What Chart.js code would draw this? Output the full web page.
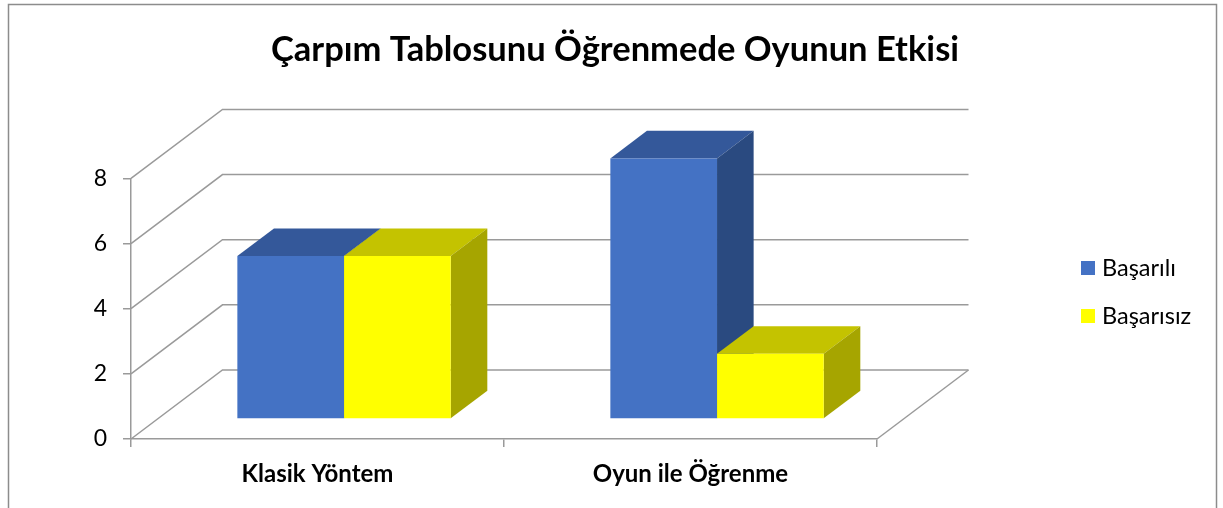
<!DOCTYPE html>
<html>
<head>
<meta charset="utf-8">
<script src="https://cdn.jsdelivr.net/npm/chart.js@4/dist/chart.umd.min.js"></script>
<style>
  html, body { margin: 0; padding: 0; background: #fff; }
</style>
</head>
<body>
<canvas id="chart" width="1223" height="508"></canvas>
<script>
var categories = ['Klasik Yöntem', 'Oyun ile Öğrenme'];
var seriesLabels = ['Başarılı', 'Başarısız'];
var basarili = [5, 8];
var basarisiz = [5, 2];
var yTicks = [0, 2, 4, 6, 8];

var FONT = 'Lato, "Open Sans", sans-serif';
var GRID = '#9a9a9a';
// 3d look: full depth of the floor, and where the bars sit inside it
var DEPTH_X = 91.5, DEPTH_Y = -69;
var BAR_FRONT = 0.29, BAR_DEPTH = 0.4;

var faceColors = [
    { front: '#4472C4', top: '#34589A', side: '#2A4A80' },
    { front: '#FFFF00', top: '#C4C300', side: '#A6A500' }
];

var threeD = {
    id: 'threeD',
    beforeDraw: function (chart) {
        var ctx = chart.ctx;
        ctx.save();
        ctx.fillStyle = '#fff';
        ctx.fillRect(0, 0, chart.width, chart.height);
        ctx.strokeStyle = '#8c8c8c';
        ctx.lineWidth = 1.5;
        ctx.strokeRect(8.5, 4.5, 1208, 520);
        ctx.restore();
    },
    beforeDatasetsDraw: function (chart) {
        var ctx = chart.ctx, a = chart.chartArea, y = chart.scales.y;
        ctx.save();
        ctx.strokeStyle = GRID;
        ctx.lineWidth = 1.5;
        yTicks.forEach(function (v) {
            var py = y.getPixelForValue(v);
            ctx.beginPath();
            ctx.moveTo(a.left, py);
            ctx.lineTo(a.left + DEPTH_X, py + DEPTH_Y);
            ctx.lineTo(a.right + DEPTH_X, py + DEPTH_Y);
            ctx.stroke();
        });
        // right edge of the floor
        ctx.beginPath();
        ctx.moveTo(a.right, a.bottom);
        ctx.lineTo(a.right + DEPTH_X, a.bottom + DEPTH_Y);
        ctx.stroke();

        // bars stand part way back on the floor
        ctx.translate(DEPTH_X * BAR_FRONT, DEPTH_Y * BAR_FRONT);
        var dx = DEPTH_X * BAR_DEPTH, dy = DEPTH_Y * BAR_DEPTH;
        chart.data.datasets.forEach(function (ds, i) {
            chart.getDatasetMeta(i).data.forEach(function (bar) {
                var p = bar.getProps(['x', 'y', 'base', 'width'], true);
                var l = p.x - p.width / 2, r = p.x + p.width / 2;
                ctx.fillStyle = faceColors[i].top;
                ctx.beginPath();
                ctx.moveTo(l, p.y);
                ctx.lineTo(l + dx, p.y + dy);
                ctx.lineTo(r + dx, p.y + dy);
                ctx.lineTo(r, p.y);
                ctx.closePath();
                ctx.fill();
                ctx.fillStyle = faceColors[i].side;
                ctx.beginPath();
                ctx.moveTo(r, p.y);
                ctx.lineTo(r + dx, p.y + dy);
                ctx.lineTo(r + dx, p.base + dy);
                ctx.lineTo(r, p.base);
                ctx.closePath();
                ctx.fill();
            });
        });
    },
    afterDatasetsDraw: function (chart) {
        chart.ctx.restore();
    },
    afterDraw: function (chart) {
        var ctx = chart.ctx;
        ctx.save();
        ctx.font = '23.5px ' + FONT;
        ctx.textBaseline = 'middle';
        ctx.textAlign = 'left';
        chart.data.datasets.forEach(function (ds, i) {
            var cy = 268 + i * 48;
            ctx.fillStyle = ds.backgroundColor;
            ctx.fillRect(1081, cy - 7, 14, 14);
            ctx.fillStyle = '#000';
            ctx.fillText(ds.label, 1102, cy);
        });
        ctx.restore();
    }
};

new Chart(document.getElementById('chart'), {
    type: 'bar',
    data: {
        labels: categories,
        datasets: [{
            label: seriesLabels[0],
            data: basarili,
            backgroundColor: faceColors[0].front,
            borderWidth: 0,
            clip: false
        }, {
            label: seriesLabels[1],
            data: basarisiz,
            backgroundColor: faceColors[1].front,
            borderWidth: 0,
            clip: false
        }]
    },
    options: {
        responsive: false,
        animation: false,
        events: [],
        barPercentage: 1,
        categoryPercentage: 0.572,
        layout: { padding: { left: 7, right: 0, top: 0, bottom: 0 } },
        scales: {
            x: {
                grid: { drawOnChartArea: false, tickLength: 8, color: GRID, lineWidth: 1.5 },
                border: { color: GRID, width: 1.5 },
                ticks: { font: { family: FONT, size: 24, weight: 'bold' }, color: '#000', padding: 13 },
                afterFit: function (s) { s.height = 69; }
            },
            y: {
                min: 0,
                max: 8,
                ticks: { stepSize: 2, font: { family: FONT, size: 23 }, color: '#000', padding: 16 },
                grid: { drawOnChartArea: false, tickLength: 8, color: GRID, lineWidth: 1.5 },
                border: { color: GRID, width: 1.5 },
                afterFit: function (s) { s.width = 124; }
            },
            side: {
                type: 'linear',
                position: 'right',
                ticks: { display: false },
                grid: { display: false },
                border: { display: false },
                afterFit: function (s) { s.width = 346; }
            }
        },
        plugins: {
            title: {
                display: true,
                text: 'Çarpım Tablosunu Öğrenmede Oyunun Etkisi',
                font: { family: FONT, size: 34.5, weight: 'bold' },
                color: '#000',
                padding: { top: 29, bottom: 108 }
            },
            legend: { display: false },
            tooltip: { enabled: false }
        }
    },
    plugins: [threeD]
});
</script>
</body>
</html>
